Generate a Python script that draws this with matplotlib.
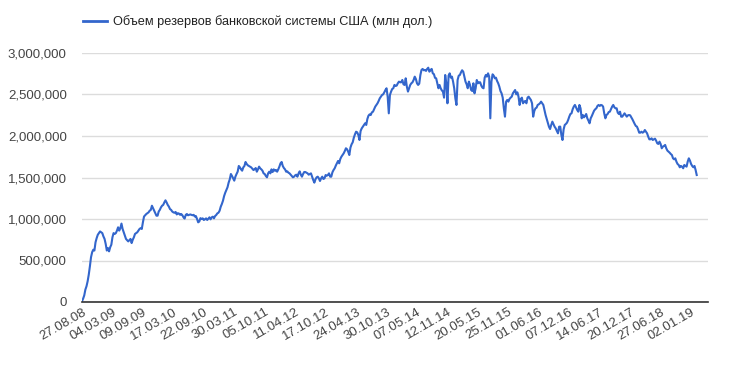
import numpy as np
import pandas as pd
import matplotlib
matplotlib.use("Agg")
import matplotlib.pyplot as plt
from matplotlib.ticker import FuncFormatter, MultipleLocator

# Weekly reserve balances, thousands of mln USD (weekly, starting 27.08.08)
res_2008_2010 = [10, 40, 80, 150, 190, 250, 330, 430, 540, 600,
                 630, 620, 720, 770, 810, 830, 850, 840, 830, 790,
                 760, 700, 620, 650, 610, 660, 690, 780, 830, 820,
                 830, 860, 900, 860, 890, 945, 880, 840, 800, 760,
                 745, 730, 745, 760, 710, 750, 780, 820, 830, 840,
                 860, 880, 890, 880, 960, 1030, 1045, 1060, 1070, 1080,
                 1100, 1110, 1160, 1130, 1100, 1070, 1040, 1040, 1090, 1110,
                 1140, 1160, 1170, 1200, 1225, 1200, 1170, 1150, 1120, 1110,
                 1090, 1080, 1075, 1085, 1055, 1070, 1065, 1050, 1060, 1045,
                 1020, 1005, 1050, 1060, 1045, 1050, 1055, 1050, 1045, 1050,
                 1030, 1035, 1000, 960, 970, 1010, 1000]
res_2010_2012 = [1008, 988, 996, 1008, 988, 1004, 1020, 996, 1020, 1028,
                 1008, 1036, 1048, 1068, 1076, 1100, 1148, 1181, 1221, 1277,
                 1317, 1350, 1382, 1438, 1478, 1542, 1518, 1490, 1462, 1510,
                 1542, 1570, 1639, 1622, 1598, 1582, 1622, 1639, 1687, 1663,
                 1647, 1639, 1631, 1622, 1606, 1590, 1598, 1614, 1570, 1598,
                 1631, 1610, 1598, 1582, 1550, 1542, 1518, 1502, 1550, 1570,
                 1550, 1598, 1566, 1598, 1582, 1590, 1570, 1598, 1631, 1671,
                 1687, 1639, 1614, 1598, 1570, 1574, 1558, 1550, 1534, 1518,
                 1502, 1510, 1526, 1534, 1510, 1550, 1574, 1534, 1510, 1542,
                 1566, 1566, 1558, 1550, 1534, 1542, 1550, 1510, 1470, 1438,
                 1478, 1502, 1510, 1490]
res_2012_2014 = [1458, 1490, 1510, 1482, 1490, 1530, 1522, 1530, 1550, 1510,
                 1510, 1562, 1590, 1610, 1643, 1671, 1699, 1671, 1723, 1751,
                 1771, 1791, 1819, 1852, 1840, 1811, 1771, 1860, 1900, 1924,
                 1980, 2020, 2052, 2044, 2012, 1952, 2060, 2092, 2112, 2133,
                 2153, 2133, 2205, 2245, 2261, 2253, 2285, 2293, 2325, 2354,
                 2374, 2394, 2422, 2454, 2474, 2494, 2502, 2526, 2554, 2575,
                 2474, 2273, 2494, 2534, 2566, 2575, 2615, 2603, 2607, 2635,
                 2655, 2647, 2647, 2675, 2623, 2615, 2695, 2595, 2535, 2575,
                 2615, 2635, 2647, 2675, 2715, 2687, 2635, 2615, 2631, 2735,
                 2796, 2808, 2792, 2796, 2784, 2808, 2823, 2775, 2796, 2808,
                 2755, 2745, 2700, 2695, 2635, 2575]
res_2014_2016 = [2615, 2575, 2550, 2534, 2462, 2735, 2635, 2394, 2727, 2755,
                 2703, 2715, 2655, 2575, 2454, 2374, 2675, 2727, 2735, 2767,
                 2792, 2775, 2715, 2655, 2623, 2575, 2655, 2615, 2554, 2542,
                 2635, 2514, 2575, 2675, 2635, 2647, 2647, 2607, 2583, 2575,
                 2703, 2735, 2715, 2755, 2715, 2213, 2655, 2743, 2727, 2695,
                 2703, 2663, 2635, 2595, 2542, 2514, 2462, 2333, 2233, 2414,
                 2434, 2414, 2446, 2462, 2474, 2514, 2534, 2554, 2502, 2526,
                 2474, 2374, 2446, 2462, 2394, 2414, 2422, 2394, 2462, 2474,
                 2454, 2434, 2394, 2233, 2301, 2333, 2341, 2374, 2382, 2394,
                 2414, 2394, 2374, 2313, 2253, 2205, 2153, 2112, 2084, 2133,
                 2173, 2141, 2112, 2092, 2060, 2032, 2112]
res_2016_2019 = [2113, 2012, 1952, 2080, 2133, 2145, 2161, 2193, 2233, 2265,
                 2273, 2322, 2354, 2374, 2346, 2314, 2293, 2374, 2334, 2213,
                 2253, 2225, 2241, 2265, 2213, 2185, 2153, 2213, 2241, 2273,
                 2305, 2322, 2334, 2362, 2374, 2362, 2374, 2370, 2354, 2273,
                 2213, 2253, 2265, 2289, 2293, 2322, 2354, 2374, 2346, 2334,
                 2334, 2281, 2265, 2293, 2233, 2233, 2253, 2273, 2253, 2233,
                 2249, 2253, 2249, 2225, 2201, 2173, 2145, 2121, 2113, 2080,
                 2040, 2040, 2052, 2040, 2048, 2072, 2052, 2032, 1992, 1960,
                 1960, 1972, 1952, 1960, 1968, 1944, 1912, 1904, 1932, 1904,
                 1852, 1872, 1880, 1892, 1852, 1824, 1811, 1799, 1783, 1771,
                 1731, 1719, 1731, 1691, 1663, 1651, 1623, 1639, 1631, 1611,
                 1651, 1639, 1631, 1691, 1731, 1703, 1663, 1639, 1623, 1639,
                 1591, 1530]

tick_labels = ["27.08.08", "04.03.09", "09.09.09", "17.03.10", "22.09.10",
               "30.03.11", "05.10.11", "11.04.12", "17.10.12", "24.04.13",
               "30.10.13", "07.05.14", "12.11.14", "20.05.15", "25.11.15",
               "01.06.16", "07.12.16", "14.06.17", "20.12.17", "27.06.18",
               "02.01.19"]
series_name = "Объем резервов банковской системы США (млн дол.)"
start_date = "2008-08-27"

values = np.array(res_2008_2010 + res_2010_2012 + res_2012_2014 +
                  res_2014_2016 + res_2016_2019, dtype=float) * 1000
dates = pd.date_range(start_date, periods=len(values), freq="7D")
tick_pos = pd.to_datetime(tick_labels, format="%d.%m.%y")

plt.rcParams['font.family'] = ['Liberation Sans', 'DejaVu Sans']

W, H = 735, 378
fig = plt.figure(figsize=(W / 100, H / 100), dpi=100)
left, right, bottom, top = 82, 708, 302, 53
ax = fig.add_axes([left / W, 1 - bottom / H, (right - left) / W, (bottom - top) / H])

line, = ax.plot(dates, values, color="#3366cc", lw=1.5, solid_joinstyle="round",
                label=series_name)

ax.set_ylim(0, 3000000)
ax.yaxis.set_major_locator(MultipleLocator(500000))
ax.yaxis.set_major_formatter(FuncFormatter(lambda v, p: f"{v:,.0f}"))
ax.set_xlim(dates[0], dates[0] + pd.Timedelta(weeks=555))
ax.set_xticks(tick_pos)
ax.set_xticklabels(tick_labels, rotation=30, ha="right", rotation_mode="anchor")

ax.grid(axis="y", color="#dcdcdc", lw=1)
ax.set_axisbelow(True)
for s in ["top", "right", "left"]:
    ax.spines[s].set_visible(False)
ax.spines["bottom"].set_color("#333333")
ax.spines["bottom"].set_linewidth(1.2)
ax.spines["bottom"].set_zorder(5)
ax.tick_params(axis="both", length=0, labelsize=9.5, labelcolor="#444444")
ax.tick_params(axis="y", pad=11)
ax.tick_params(axis="x", pad=3)

leg = fig.legend(handles=[line], loc="upper left",
                 bbox_to_anchor=(78 / W, 1 - 10 / H), frameon=False,
                 fontsize=9.2, handlelength=1.9, handletextpad=0.45,
                 borderaxespad=0)
for t in leg.get_texts():
    t.set_color("#222222")
for h in leg.legend_handles:
    h.set_linewidth(2)

fig.savefig("out.png", dpi=100)
